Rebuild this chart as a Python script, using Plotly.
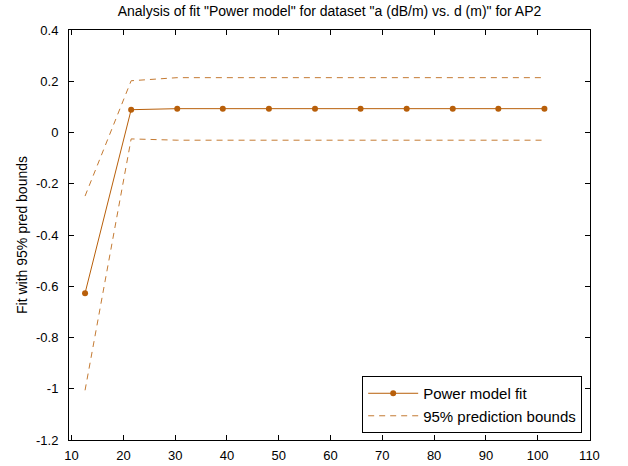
import plotly.graph_objects as go

# Data
x_vals = [12.6, 21.5, 30.4, 39.2, 48.1, 57.0, 65.8, 74.7, 83.6, 92.4, 101.3]
fit_vals = [-0.627, 0.089, 0.093, 0.093, 0.093, 0.093, 0.093, 0.093, 0.093, 0.093, 0.093]
upper_vals = [-0.248, 0.202, 0.214, 0.214, 0.214, 0.214, 0.214, 0.214, 0.214, 0.214, 0.214]
lower_vals = [-1.006, -0.025, -0.030, -0.030, -0.030, -0.030, -0.030, -0.030, -0.030, -0.030, -0.030]

x_ticks = [10, 20, 30, 40, 50, 60, 70, 80, 90, 100, 110]
y_ticks = [0.4, 0.2, 0, -0.2, -0.4, -0.6, -0.8, -1, -1.2]
y_tick_text = ["0.4", "0.2", "0", "-0.2", "-0.4", "-0.6", "-0.8", "-1", "-1.2"]

title_text = 'Analysis of fit "Power model" for dataset "a (dB/m) vs. d (m)" for AP2'
y_label = "Fit with 95% pred bounds"

fit_color = "#B85F0A"
bound_color = "#C47A32"
font_family = "Liberation Sans, Arial, Helvetica, sans-serif"

fig = go.Figure()
fig.add_trace(go.Scatter(
    x=x_vals, y=fit_vals, mode="lines+markers", name="Power model fit",
    line=dict(color=fit_color, width=1),
    marker=dict(color=fit_color, size=6, symbol="circle"),
))
fig.add_trace(go.Scatter(
    x=x_vals, y=upper_vals, mode="lines", name="95% prediction bounds",
    line=dict(color=bound_color, width=1, dash="6px,5px"),
))
fig.add_trace(go.Scatter(
    x=x_vals, y=lower_vals, mode="lines", name="95% prediction bounds",
    line=dict(color=bound_color, width=1, dash="6px,5px"), showlegend=False,
))

axis_common = dict(
    showline=True, linecolor="black", linewidth=1, mirror="ticks",
    ticks="inside", ticklen=5, tickcolor="black", tickwidth=1,
    showgrid=False, zeroline=False, automargin=False,
    tickfont=dict(family=font_family, size=13, color="black"),
)

fig.update_layout(
    width=628, height=466,
    margin=dict(l=69, r=38, t=30, b=26, autoexpand=False),
    paper_bgcolor="white", plot_bgcolor="white",
    font=dict(family=font_family, size=13, color="black"),
    title=dict(text=title_text, x=0.5, xref="paper", xanchor="center",
               y=0.976, yref="container", yanchor="middle",
               font=dict(family=font_family, size=14, color="black")),
    xaxis=dict(range=[9.5, 110.1], tickvals=x_ticks, ticklabelstandoff=3,
               **axis_common),
    yaxis=dict(range=[-1.2, 0.4], tickvals=y_ticks, ticktext=y_tick_text,
               ticklabelstandoff=7,
               title=dict(text=y_label, standoff=5,
                          font=dict(family=font_family, size=14, color="black")),
               **axis_common),
    legend=dict(x=0.985, y=0.017, xanchor="right", yanchor="bottom",
                bordercolor="black", borderwidth=1, bgcolor="white",
                font=dict(family=font_family, size=15, color="black"),
                itemwidth=50),
    showlegend=True,
)

fig.write_html("out.html")
